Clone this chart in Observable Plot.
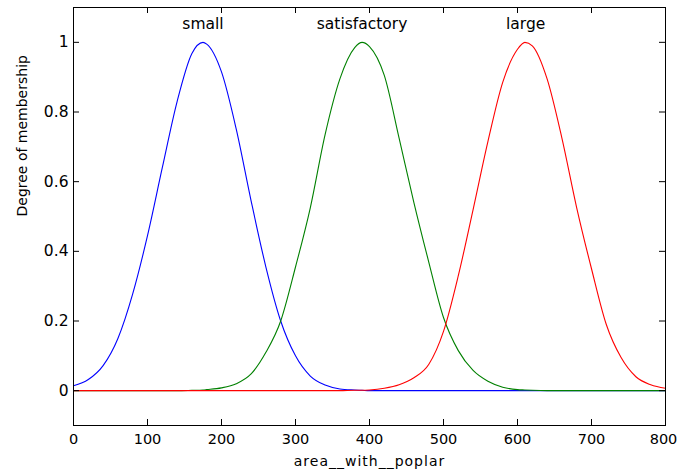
<!DOCTYPE html>
<html>
<head>
<meta charset="utf-8">
<script src="https://cdn.jsdelivr.net/npm/d3@7"></script>
<script src="https://cdn.jsdelivr.net/npm/@observablehq/plot@0.6"></script>
<style>
  html, body { margin: 0; padding: 0; background: #fff; }
</style>
</head>
<body>
<div id="chart"></div>
<script>
// x sample positions of the membership curves (area__with__poplar)
const xs = [0, 20, 40, 60, 80, 100, 120, 140, 160, 175, 180, 200, 220, 240, 260, 280, 300, 320, 340, 360, 380, 390,
            400, 420, 440, 460, 480, 500, 520, 540, 560, 580, 600, 610, 620, 640, 660, 680, 700, 720, 740, 760, 780, 800];

// degree of membership
const small = [0.014, 0.032, 0.072, 0.150, 0.278, 0.445, 0.640, 0.830, 0.968, 1.000, 0.995, 0.915, 0.750, 0.545, 0.355, 0.200, 0.100, 0.042, 0.016, 0.005, 0.002, 0.001,
               0, 0, 0, 0, 0, 0, 0, 0, 0, 0, 0, 0, 0, 0, 0, 0, 0, 0, 0, 0, 0, 0];
const satisfactory = [0, 0, 0, 0, 0, 0, 0, 0, 0.001, 0.002, 0.003, 0.008, 0.020, 0.048, 0.110, 0.200, 0.355, 0.525, 0.735, 0.895, 0.985, 1.000,
               0.988, 0.905, 0.725, 0.540, 0.370, 0.210, 0.115, 0.058, 0.027, 0.010, 0.003, 0.002, 0.001, 0, 0, 0, 0, 0, 0, 0, 0, 0];
const large = [0, 0, 0, 0, 0, 0, 0, 0, 0, 0, 0, 0, 0, 0, 0, 0, 0, 0, 0, 0, 0.001, 0.001,
               0.002, 0.007, 0.017, 0.037, 0.075, 0.170, 0.330, 0.520, 0.715, 0.885, 0.980, 1.000, 0.990, 0.895, 0.725, 0.525, 0.350, 0.190, 0.095, 0.040, 0.017, 0.007];

const seriesNames = ["small", "satisfactory", "large"];
const seriesColors = ["#0000ff", "#008000", "#ff0000"];
const peakCenters = [175, 390, 611];

const xTicks = [0, 100, 200, 300, 400, 500, 600, 700, 800];
const yTicks = [0, 0.2, 0.4, 0.6, 0.8, 1];
const xLabel = "area__with__poplar";
const yLabel = "Degree of membership";

const W = 678, H = 473;
const mt = 7, mr = 13, mb = 48, ml = 73;
const innerW = W - ml - mr, innerH = H - mt - mb;
const tickLen = 6;

const seriesValues = [small, satisfactory, large];
const data = seriesNames.flatMap((name, k) => xs.map((x, i) => ({x, y: seriesValues[k][i], name})));

const chart = Plot.plot({
  width: W,
  height: H,
  marginTop: mt,
  marginRight: mr,
  marginBottom: mb,
  marginLeft: ml,
  style: {fontFamily: "'DejaVu Sans', sans-serif", fontSize: "14px", color: "#000", background: "#fff", overflow: "visible"},
  x: {domain: [0, 800]},
  y: {domain: [-0.1, 1.1]},
  color: {domain: seriesNames, range: seriesColors},
  marks: [
    Plot.line(data, {x: "x", y: "y", z: "name", stroke: "name", strokeWidth: 1.1, curve: "monotone-x"}),
    Plot.frame({stroke: "#000", strokeWidth: 1}),
    Plot.tickX(xTicks, {x: d => d, insetTop: innerH - tickLen, stroke: "#000"}),
    Plot.tickX(xTicks, {x: d => d, insetBottom: innerH - tickLen, stroke: "#000"}),
    Plot.tickY(yTicks, {y: d => d, insetRight: innerW - tickLen, stroke: "#000"}),
    Plot.tickY(yTicks, {y: d => d, insetLeft: innerW - tickLen, stroke: "#000"}),
    Plot.axisX(xTicks, {tickSize: 0, tickPadding: 8, label: null, fontSize: 14.5, tickFormat: d => String(d)}),
    Plot.axisY(yTicks, {tickSize: 0, tickPadding: 5, label: null, fontSize: 15.5, tickFormat: d => String(d)}),
    Plot.text(seriesNames, {x: (d, i) => peakCenters[i], y: 1.052, text: d => d, fontSize: 15.5, lineAnchor: "middle", fill: "#000"}),
    Plot.text([xLabel], {frameAnchor: "bottom", dy: 36, text: d => d, fontSize: 14, lineAnchor: "middle", fill: "#000"}),
    Plot.text([yLabel], {frameAnchor: "left", dx: -51, rotate: -90, text: d => d, fontSize: 14, lineAnchor: "middle", fill: "#000"})
  ]
});
chart.querySelectorAll("text").forEach(t => {
  // widen the x-axis title a little, as in the reference
  if (t.textContent === xLabel) t.setAttribute("letter-spacing", "1");
  // keep the last x tick label inside the picture
  if (t.textContent === String(xTicks[xTicks.length - 1])) t.setAttribute("dx", "-2");
});
document.getElementById("chart").appendChild(chart);
</script>
</body>
</html>
